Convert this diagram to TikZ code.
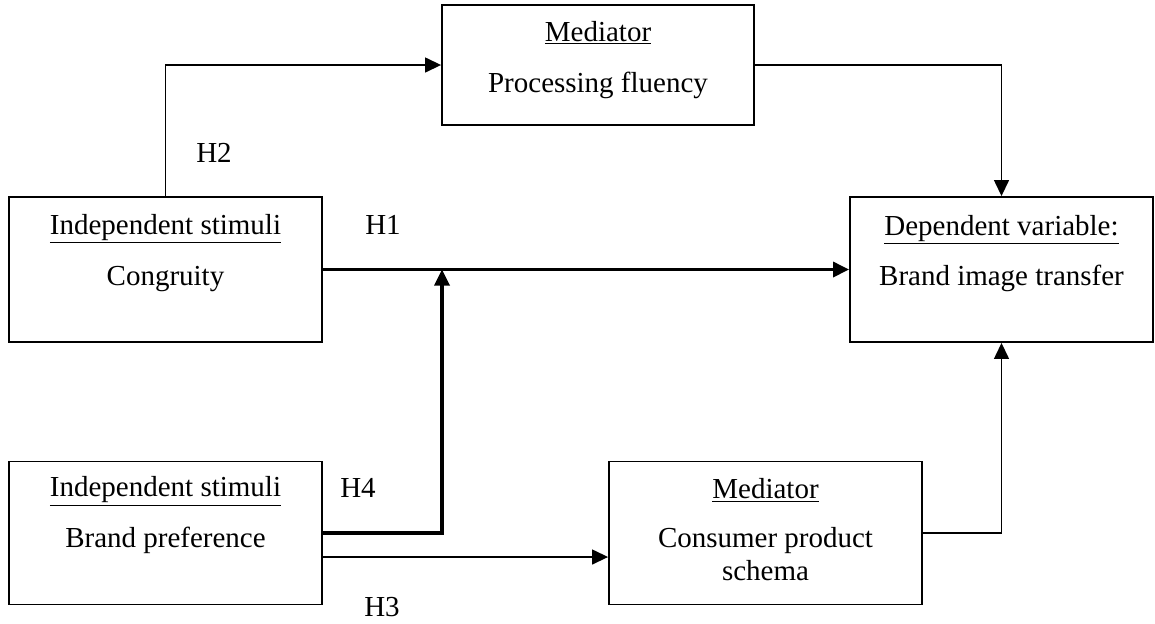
\documentclass[tikz,border=0pt]{standalone}
\usepackage{fontspec}
\setmainfont{Liberation Serif}
\usepackage{tikz}
\usetikzlibrary{positioning, arrows.meta}

\begin{document}
\begin{tikzpicture}[
                x=0.02cm, y=-0.02cm,
                box/.style={draw, line width=1.1pt, minimum width=6.26cm, minimum height=2.9cm, inner sep=0pt},
                title/.style={anchor=base, font=\fontsize{16.5}{18.8}\selectfont},
                body/.style={anchor=base, align=center, font=\fontsize{16.5}{18.8}\selectfont},
                link/.style={-{Triangle[length=0.32cm, width=0.3cm]}, line width=0.8pt},
                strong/.style={-{Triangle[length=0.32cm, width=0.3cm]}, line width=1.9pt},
                hyp/.style={font=\fontsize{16.5}{18.8}\selectfont}
                ]
                \useasboundingbox (0,0) rectangle (1155,623);

                % 상자 배치
                \node[box, minimum width=6.24cm, minimum height=2.4cm] (med1) at (598,65) {};
                \node[box] (congr) at (165.5,269.5) {};
                \node[box, minimum width=6.06cm] (dep) at (1001.5,269.5) {};
                \node[box, minimum height=2.86cm] (pref) at (165.5,533) {};
                \node[box, minimum height=2.86cm] (med2) at (765.5,533) {};

                % 상자 안의 글
                \node[title] (med1t) at ([yshift=-0.74cm]med1.north) {\underline{Mediator}};
                \node[body] (med1b) at ([yshift=-1.76cm]med1.north) {Processing fluency};
                \node[title] (congrt) at ([yshift=-0.76cm]congr.north) {\underline{Independent stimuli}};
                \node[body] (congrb) at ([yshift=-1.78cm]congr.north) {Congruity};
                \node[title] (dept) at ([yshift=-0.78cm]dep.north) {\underline{Dependent variable:}};
                \node[body] (depb) at ([yshift=-1.78cm]dep.north) {Brand image transfer};
                \node[title] (preft) at ([yshift=-0.72cm]pref.north) {\underline{Independent stimuli}};
                \node[body] (prefb) at ([yshift=-1.74cm]pref.north) {Brand preference};
                \node[title] (med2t) at ([yshift=-0.76cm]med2.north) {\underline{Mediator}};
                \node[body] (med2b) at ([yshift=-2.4cm]med2.north) {Consumer product\\schema};

                % 화살표 연결
                \coordinate (mod) at (442,269.5);
                \draw[link] (congr.north) |- (med1.west);
                \draw[link] (med1.east) -| (dep.north);
                \draw[strong] (congr.east) -- (dep.west);
                \draw[strong] (pref.east) -| (mod);
                \draw[link] ([yshift=-0.48cm]pref.east) -- ([yshift=-0.48cm]med2.west);
                \draw[link] (med2.east) -| (dep.south);

                % 가설 표기
                \node[hyp] (h2) at (214,153) {H2};
                \node[hyp] (h1) at (383,225) {H1};
                \node[hyp] (h4) at (358,488) {H4};
                \node[hyp] (h3) at (382,607) {H3};
            \end{tikzpicture}
\end{document}
